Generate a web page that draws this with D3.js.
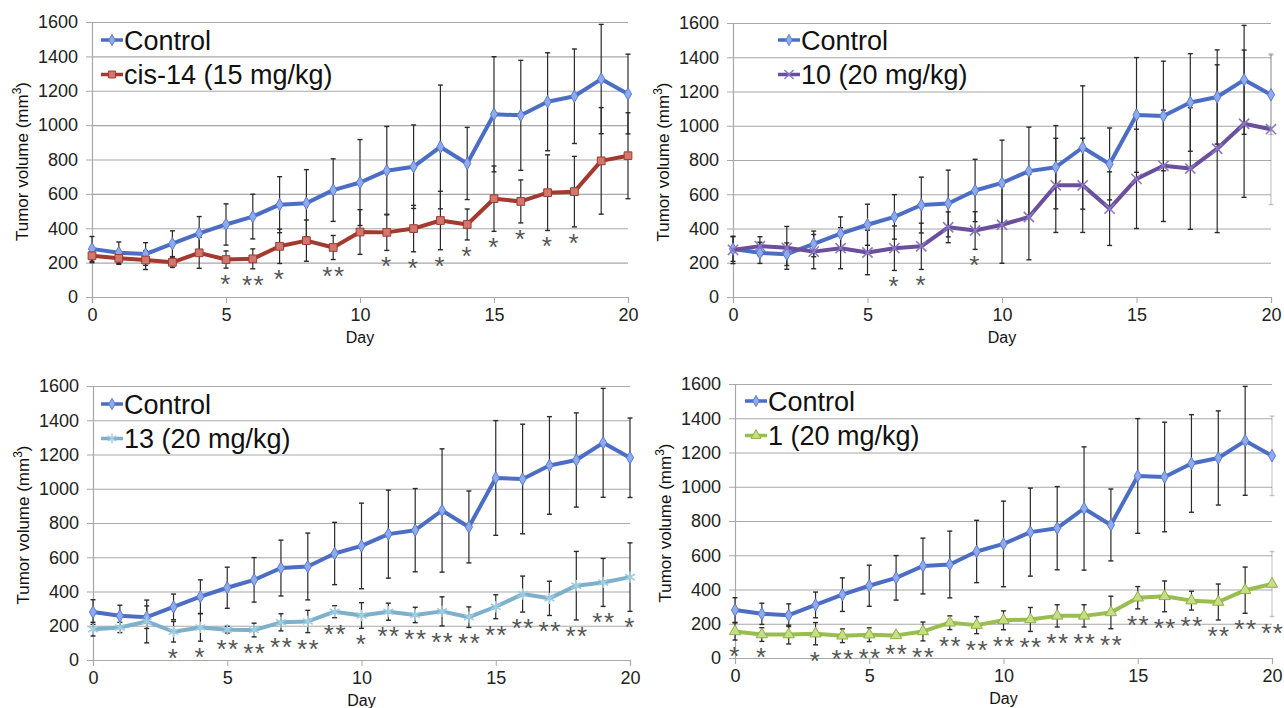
<!DOCTYPE html>
<html>
<head>
<meta charset="utf-8">
<script src="https://cdn.jsdelivr.net/npm/d3@7"></script>
<style>
  body { margin: 0; background: #fff; }
  svg { display: block; font-family: "Liberation Sans", Arial, sans-serif; }
</style>
</head>
<body>
<div id="chart-area"></div>
<script>
// ---- data ----
var days = [0, 1, 2, 3, 4, 5, 6, 7, 8, 9, 10, 11, 12, 13, 14, 15, 16, 17, 18, 19, 20];
var yTicks = [0, 200, 400, 600, 800, 1000, 1200, 1400, 1600];
var xTicks = [0, 5, 10, 15, 20];

var control    = [280, 258, 250, 310, 370, 422, 468, 537, 546, 622, 666, 735, 758, 873, 777, 1063, 1057, 1136, 1168, 1268, 1181];
var controlErr = [72, 62, 66, 75, 98, 120, 130, 163, 195, 182, 250, 257, 243, 360, 210, 335, 320, 285, 275, 318, 232];

var cis14      = [240, 225, 215, 202, 257, 218, 222, 295, 328, 288, 378, 376, 398, 445, 422, 572, 556, 607, 613, 792, 822];
var cis14Err   = [40, 35, 55, 30, 90, 50, 58, 100, 120, 70, 130, 105, 135, 170, 90, 190, 125, 220, 205, 310, 250];
var cis14Stars = ["", "", "", "", "", "*", "**", "*", "", "**", "", "*", "*", "*", "*", "*", "*", "*", "*", "", ""];

var cpd10      = [275, 297, 287, 265, 285, 260, 285, 296, 407, 388, 422, 467, 652, 652, 516, 690, 766, 750, 866, 1012, 980];
var cpd10Err   = [80, 55, 125, 100, 120, 130, 130, 135, 90, 110, 225, 250, 275, 275, 215, 290, 325, 355, 490, 430, 440];
var cpd10Stars = ["", "", "", "", "", "", "*", "*", "", "*", "", "", "", "", "", "", "", "", "", "", ""];

var cpd13      = [180, 190, 225, 165, 190, 177, 175, 220, 225, 282, 260, 282, 263, 284, 250, 311, 385, 360, 434, 453, 484];
var cpd13Err   = [40, 30, 125, 60, 80, 20, 40, 50, 65, 35, 75, 50, 45, 85, 60, 70, 105, 100, 200, 140, 200];
var cpd13Stars = ["", "", "", "*", "*", "**", "**", "**", "**", "**", "*", "**", "**", "**", "**", "**", "**", "**", "**", "**", "*"];

var cpd1       = [155, 137, 137, 142, 130, 136, 132, 155, 206, 192, 220, 225, 246, 246, 266, 352, 360, 335, 327, 396, 432];
var cpd1Err    = [50, 40, 55, 65, 40, 40, 15, 55, 40, 50, 55, 70, 65, 65, 95, 65, 90, 55, 105, 135, 190];
var cpd1Stars  = ["*", "*", "", "*", "**", "**", "**", "**", "**", "**", "**", "**", "**", "**", "**", "**", "**", "**", "**", "**", "**"];

// ---- styles ----
var controlStyle = { label: "Control", line: "#4b6dc3", fill: "#8fabee", stroke: "#5a7bd0", symbol: d3.symbolDiamond, size: 45, filled: true };

var panels = [
  { box: { l: 92, r: 628, t: 22, b: 297 }, legend: { x: 101, y: 40 },
    series: { label: "cis-14 (15 mg/kg)", values: cis14, err: cis14Err, line: "#a3392f", fill: "#d0786f", stroke: "#a3392f", symbol: d3.symbolSquare, size: 60, filled: true },
    stars: cis14Stars, fadeLast: false },
  { box: { l: 733, r: 1271, t: 23, b: 297 }, legend: { x: 778, y: 40 },
    series: { label: "10 (20 mg/kg)", values: cpd10, err: cpd10Err, line: "#6a4f9d", fill: "none", stroke: "#8a78c4", symbol: d3.symbolX, size: 70, filled: false },
    stars: cpd10Stars, fadeLast: true },
  { box: { l: 93, r: 630, t: 386, b: 660 }, legend: { x: 101, y: 404 },
    series: { label: "13 (20 mg/kg)", values: cpd13, err: cpd13Err, line: "#7db0ca", fill: "none", stroke: "#9fcde2", symbol: d3.symbolAsterisk, size: 90, filled: false },
    stars: cpd13Stars, fadeLast: false },
  { box: { l: 735, r: 1272, t: 384, b: 658 }, legend: { x: 745, y: 401 },
    series: { label: "1 (20 mg/kg)", values: cpd1, err: cpd1Err, line: "#9abd4f", fill: "#c6df86", stroke: "#8fb044", symbol: d3.symbolTriangle, size: 55, filled: true },
    stars: cpd1Stars, fadeLast: true }
];

var svg = d3.select("#chart-area").append("svg")
    .attr("width", 1284)
    .attr("height", 708);

panels.forEach(function(p) {
    var b = p.box;
    var x = d3.scaleLinear().domain([0, 20]).range([b.l, b.r]);
    var y = d3.scaleLinear().domain([0, 1600]).range([b.b, b.t]);
    var g = svg.append("g");

    // gridlines
    g.append("g")
        .attr("transform", "translate(" + b.l + ",0)")
        .call(d3.axisLeft(y).tickValues(yTicks).tickSize(-(b.r - b.l)).tickFormat(""))
        .call(function(s) {
            s.select(".domain").remove();
            s.selectAll("line").attr("stroke", "#a8a8a8").attr("stroke-width", 1.2);
        });

    // y axis
    g.append("g")
        .attr("transform", "translate(" + b.l + ",0)")
        .call(d3.axisLeft(y).tickValues(yTicks).tickSize(6).tickPadding(8).tickFormat(d3.format("d")))
        .call(function(s) {
            s.select(".domain").attr("stroke", "#a8a8a8").attr("stroke-width", 1.2);
            s.selectAll("line").attr("stroke", "#a8a8a8");
            s.selectAll("text").attr("font-size", "18px").attr("fill", "#222")
                .attr("font-family", "Liberation Sans, Arial, sans-serif");
        });

    // x axis
    g.append("g")
        .attr("transform", "translate(0," + b.b + ")")
        .call(d3.axisBottom(x).tickValues(xTicks).tickSize(6).tickPadding(5))
        .call(function(s) {
            s.select(".domain").attr("stroke", "#a8a8a8").attr("stroke-width", 1.2);
            s.selectAll("line").attr("stroke", "#a8a8a8");
            s.selectAll("text").attr("font-size", "18px").attr("fill", "#222")
                .attr("font-family", "Liberation Sans, Arial, sans-serif");
        });

    g.append("text")
        .attr("x", (b.l + b.r) / 2)
        .attr("y", b.b + 46)
        .attr("text-anchor", "middle")
        .attr("font-size", "16px")
        .attr("fill", "#111")
        .text("Day");

    var yl = g.append("text")
        .attr("transform", "translate(" + (b.l - 64) + "," + ((b.t + b.b) / 2 + 2) + ") rotate(-90)")
        .attr("text-anchor", "middle")
        .attr("font-size", "17px")
        .attr("fill", "#111");
    yl.append("tspan").text("Tumor volume (mm");
    yl.append("tspan").attr("baseline-shift", "super").attr("font-size", "12px").text("3");
    yl.append("tspan").text(")");

    var series = [controlStyle, p.series];
    var vals = [control, p.series.values];
    var errs = [controlErr, p.series.err];

    // error bars
    series.forEach(function(s, si) {
        var eg = g.append("g");
        days.forEach(function(d, i) {
            var v = vals[si][i], e = errs[si][i];
            var op = (p.fadeLast && i === days.length - 1) ? 0.25 : 1;
            eg.append("line")
                .attr("x1", x(d)).attr("x2", x(d))
                .attr("y1", y(v - e)).attr("y2", y(v + e))
                .attr("stroke", "#2a2a2a").attr("stroke-width", 1.2).attr("opacity", op);
            [v - e, v + e].forEach(function(c) {
                eg.append("line")
                    .attr("x1", x(d) - 2.5).attr("x2", x(d) + 2.5)
                    .attr("y1", y(c)).attr("y2", y(c))
                    .attr("stroke", "#2a2a2a").attr("stroke-width", 1.4).attr("opacity", op);
            });
        });
    });

    // lines and markers
    var line = d3.line()
        .x(function(d, i) { return x(days[i]); })
        .y(function(d) { return y(d); });

    series.forEach(function(s, si) {
        g.append("path")
            .datum(vals[si])
            .attr("d", line)
            .attr("fill", "none")
            .attr("stroke", s.line)
            .attr("stroke-width", 4)
            .attr("stroke-linejoin", "round");
        g.selectAll(null)
            .data(vals[si])
            .enter()
            .append("path")
                .attr("transform", function(d, i) { return "translate(" + x(days[i]) + "," + y(d) + ")"; })
                .attr("d", d3.symbol().type(s.symbol).size(s.size))
                .attr("fill", s.filled ? s.fill : "none")
                .attr("stroke", s.stroke)
                .attr("stroke-width", s.filled ? 1 : 1.6);
    });

    // significance asterisks ("*" sits high in the em box, so push the baseline down)
    g.selectAll(null)
        .data(p.stars)
        .enter()
        .append("text")
            .attr("x", function(d, i) { return x(days[i]) + (d.length > 1 ? 0.75 : 0); })
            .attr("y", function(d, i) { return y(p.series.values[i] - p.series.err[i]) + 25; })
            .attr("text-anchor", "middle")
            .attr("font-family", "Liberation Sans, Arial, sans-serif")
            .attr("font-size", "26px")
            .attr("letter-spacing", "1.5px")
            .attr("fill", "#555")
            .text(function(d) { return d; });

    // legend
    var lg = g.append("g").attr("transform", "translate(" + p.legend.x + "," + p.legend.y + ")");
    series.forEach(function(s, si) {
        var row = lg.append("g").attr("transform", "translate(0," + (si * 34.5) + ")");
        row.append("line")
            .attr("x1", 0).attr("x2", 22).attr("y1", 0).attr("y2", 0)
            .attr("stroke", s.line).attr("stroke-width", 3.5);
        row.append("path")
            .attr("transform", "translate(11,0)")
            .attr("d", d3.symbol().type(s.symbol).size(s.size * 0.8))
            .attr("fill", s.filled ? s.fill : "none")
            .attr("stroke", s.stroke)
            .attr("stroke-width", s.filled ? 1 : 1.4);
        row.append("text")
            .attr("x", 23)
            .attr("y", 0)
            .attr("dy", "0.36em")
            .attr("font-size", "27px")
            .attr("fill", "#111")
            .text(s.label);
    });
});
</script>
</body>
</html>
